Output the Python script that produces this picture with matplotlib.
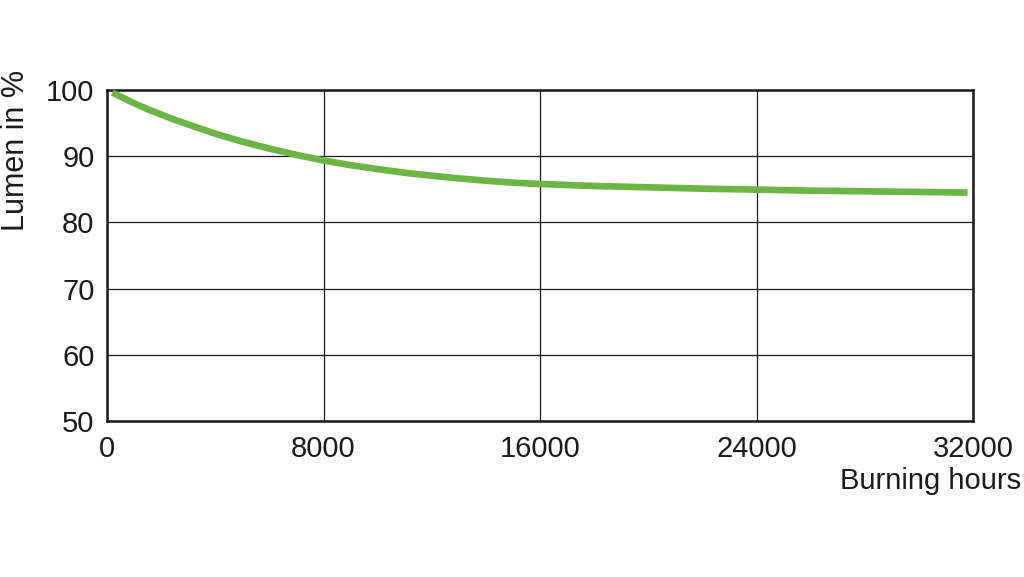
import matplotlib
matplotlib.use("Agg")
import matplotlib.pyplot as plt

hours = [200, 600, 1000, 1500, 2000, 2500, 3000, 3500, 4000, 5000, 6000, 7000,
         8000, 9000, 10000, 11000, 12000, 13000, 14000, 15000, 16000, 18000,
         20000, 22000, 24000, 26000, 28000, 30000, 31800]
lumen = [99.6, 98.8, 98.0, 97.1, 96.3, 95.5, 94.8, 94.1, 93.4, 92.2, 91.15, 90.2,
         89.35, 88.65, 88.05, 87.5, 87.05, 86.65, 86.3, 86.0, 85.8, 85.5,
         85.3, 85.1, 84.95, 84.8, 84.7, 84.6, 84.5]
xticks = [0, 8000, 16000, 24000, 32000]
yticks = [50, 60, 70, 80, 90, 100]

plt.rcParams['font.family'] = ['Liberation Sans', 'DejaVu Sans']

W, H = 1024, 577
fig = plt.figure(figsize=(W / 100, H / 100), dpi=100)
ax = fig.add_axes([107 / W, (H - 421) / H, 866 / W, 331 / H])

ax.plot(hours, lumen, color='#6ab544', lw=4.8, solid_capstyle='butt',
        solid_joinstyle='round', zorder=3)

ax.set_xlim(0, 32000)
ax.set_ylim(50, 100)
ax.set_xticks(xticks)
ax.set_yticks(yticks)
ax.set_xticklabels([str(t) for t in xticks])
ax.set_yticklabels([str(t) for t in yticks])
ax.grid(True, color='#1a1a1a', lw=0.9)
ax.set_axisbelow(True)
for s in ax.spines.values():
    s.set_linewidth(1.8)
    s.set_color('#1a1a1a')
ax.tick_params(length=0, labelsize=21, colors='#1a1a1a', pad=10)
ax.tick_params(axis='y', pad=9)

fig.text(16 / W, 1 - 150 / H, 'Lumen in %', rotation=90, fontsize=22,
         ha='center', va='center', color='#1a1a1a')
fig.text(1021 / W, 1 - 481 / H, 'Burning hours', fontsize=21,
         ha='right', va='center', color='#1a1a1a')

fig.savefig('out.png', dpi=100)
